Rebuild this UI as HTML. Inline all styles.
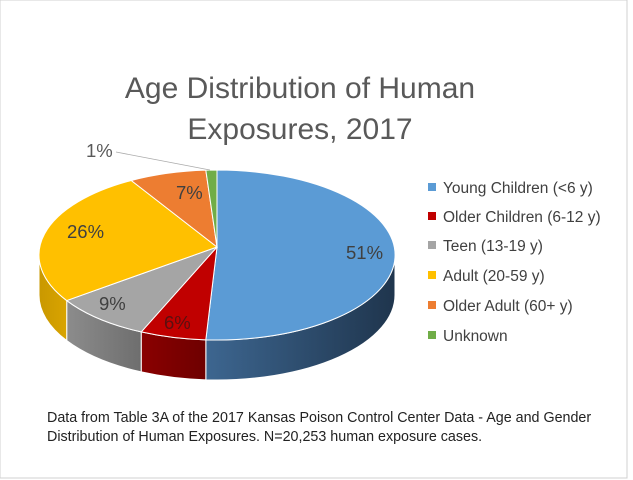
<!DOCTYPE html>
<html><head><style>
body{margin:0;background:#fff;}
svg{display:block;font-family:"Liberation Sans",sans-serif;}
</style></head><body>
<svg id="s" width="633" height="480" viewBox="0 0 633 480">
<defs>
<linearGradient id="gb" x1="0" x2="1"><stop offset="0" stop-color="#3d6690"/><stop offset="1" stop-color="#1f354d"/></linearGradient>
<linearGradient id="gr" x1="0" x2="1"><stop offset="0" stop-color="#8a0000"/><stop offset="1" stop-color="#6e0000"/></linearGradient>
<linearGradient id="gg" x1="0" x2="1"><stop offset="0" stop-color="#8c8c8c"/><stop offset="1" stop-color="#6e6e6e"/></linearGradient>
<linearGradient id="gy" x1="0" x2="1"><stop offset="0" stop-color="#c99800"/><stop offset="1" stop-color="#d9a400"/></linearGradient>
</defs>
<rect x="0" y="0" width="627" height="478" fill="#fff" stroke="#d0d0d0"/>
<g id="pie"></g>
<text x="300" y="98" font-size="30" fill="#595959" text-anchor="middle">Age Distribution of Human</text>
<text x="300" y="139" font-size="30" fill="#595959" text-anchor="middle">Exposures, 2017</text>
<g font-size="18.5" fill="#404040">
<text x="346" y="259">51%</text>
<text x="164" y="329" fill="#5a1010">6%</text>
<text x="99" y="310">9%</text>
<text x="67" y="238">26%</text>
<text x="176" y="199">7%</text>
<text x="86" y="157" fill="#595959">1%</text>
</g>
<line x1="116" y1="152" x2="210" y2="170" stroke="#aaa" stroke-width="0.8"/>
<g font-size="15.5" fill="#404040">
<rect x="428" y="183" width="8" height="8" fill="#5b9bd5"/><text x="443" y="193">Young Children (&lt;6 y)</text>
<rect x="428" y="212" width="8" height="8" fill="#c00000"/><text x="443" y="222">Older Children (6-12 y)</text>
<rect x="428" y="241" width="8" height="8" fill="#a5a5a5"/><text x="443" y="251">Teen (13-19 y)</text>
<rect x="428" y="271" width="8" height="8" fill="#ffc000"/><text x="443" y="281">Adult (20-59 y)</text>
<rect x="428" y="301" width="8" height="8" fill="#ed7d31"/><text x="443" y="311">Older Adult (60+ y)</text>
<rect x="428" y="331" width="8" height="8" fill="#70ad47"/><text x="443" y="341">Unknown</text>
</g>
<g font-size="14.3" fill="#222">
<text x="47" y="422">Data from Table 3A of the 2017 Kansas Poison Control Center Data - Age and Gender</text>
<text x="47" y="441">Distribution of Human Exposures.  N=20,253 human exposure cases.</text>
</g>
</svg>
<script>
var cx=217,cy=255,ax=217,ay=247,rx=178,ry=85,d=40;
var data=[[51,"#5b9bd5","url(#gb)"],[6,"#c00000","url(#gr)"],[9,"#a5a5a5","url(#gg)"],[26,"#ffc000","url(#gy)"],[7,"#ed7d31",null],[1,"#70ad47",null]];
function P(t,dy){var r=t*Math.PI/180;return [(cx+rx*Math.sin(r)).toFixed(2),(cy-ry*Math.cos(r)+(dy||0)).toFixed(2)];}
var g=document.getElementById("pie"),sides="",tops="",a=0;
data.forEach(function(s){
 var b=a+s[0]*3.6;
 var s1=Math.max(a,90),s2=Math.min(b,270);
 if(s2>s1&&s[2]){
  var p1=P(s1),p2=P(s2),q2=P(s2,d),q1=P(s1,d);
  sides+='<path d="M'+p1+' A'+rx+' '+ry+' 0 0 1 '+p2+' L'+q2+' A'+rx+' '+ry+' 0 0 0 '+q1+' Z" fill="'+s[2]+'" stroke="#fff" stroke-width="1"/>';
 }
 var pa=P(a),pb=P(b),large=(b-a)>180?1:0;
 tops+='<path d="M'+ax+' '+ay+' L'+pa+' A'+rx+' '+ry+' 0 '+large+' 1 '+pb+' Z" fill="'+s[1]+'" stroke="#fff" stroke-width="1"/>';
 a=b;
});
g.innerHTML=sides+tops;
</script>
</body></html>
